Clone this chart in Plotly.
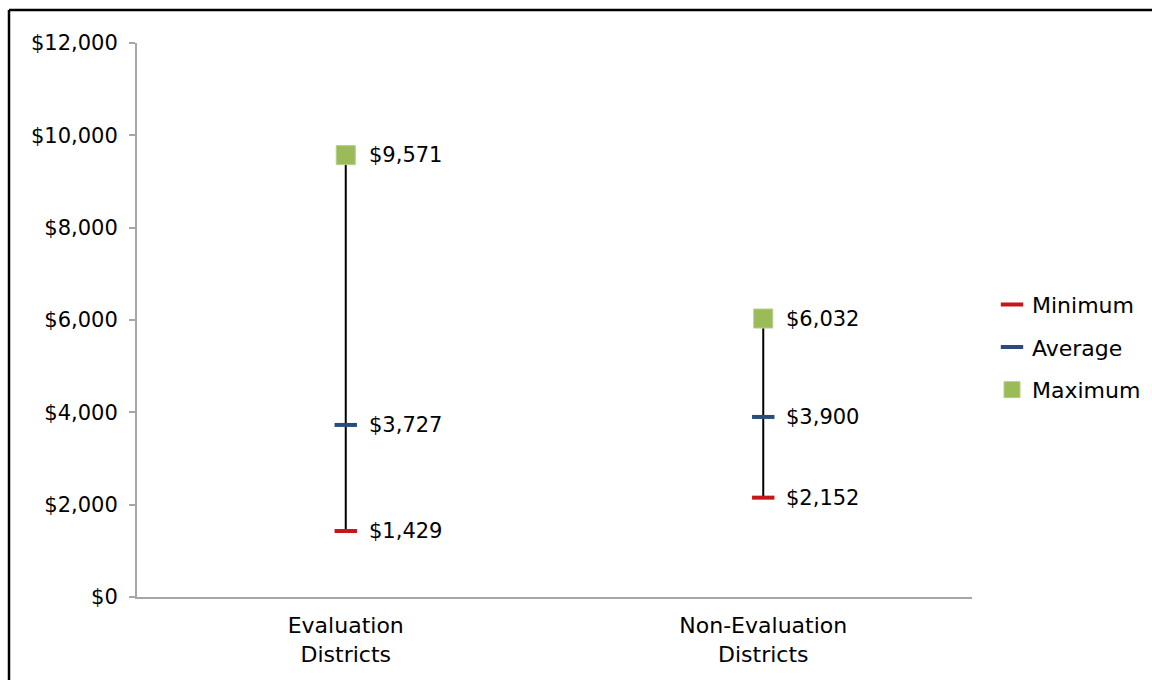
import plotly.graph_objects as go

categories = ["Evaluation<br>Districts", "Non-Evaluation<br>Districts"]
minimum = [1429, 2152]
average = [3727, 3900]
maximum = [9571, 6032]
y_ticks = [0, 2000, 4000, 6000, 8000, 10000, 12000]

FONT = "DejaVu Sans, Arial, sans-serif"
FS = 21
FS_CAT = 22
RED = "#C8151B"
BLUE = "#2A4C7D"
GREEN = "#9BBB59"

L, R, T, B = 137, 180, 43, 83
PW, PH = 1152 - L - R, 680 - T - B

fig = go.Figure()

# drop lines from minimum to maximum
lx, ly = [], []
for c, lo, hi in zip(categories, minimum, maximum):
    lx += [c, c, None]
    ly += [lo, hi, None]
fig.add_trace(go.Scatter(x=lx, y=ly, mode="lines", line=dict(color="black", width=2),
                         showlegend=False, hoverinfo="skip"))

fig.add_trace(go.Scatter(x=categories, y=minimum, mode="markers", name="Minimum",
                         legendgroup="a",
                         marker=dict(symbol="line-ew", size=16, line=dict(color=RED, width=4))))
fig.add_trace(go.Scatter(x=categories, y=average, mode="markers", name="Average",
                         legendgroup="b",
                         marker=dict(symbol="line-ew", size=16, line=dict(color=BLUE, width=4))))
fig.add_trace(go.Scatter(x=categories, y=maximum, mode="markers", name="Maximum",
                         legendgroup="c",
                         marker=dict(symbol="square", size=19, color=GREEN,
                                     line=dict(color="#B5CF85", width=1))))

for series in (minimum, average, maximum):
    for c, v in zip(categories, series):
        fig.add_annotation(x=c, y=v, text=f"${v:,}", showarrow=False,
                           xanchor="left", yanchor="middle", xshift=21,
                           font=dict(family=FONT, size=FS, color="black"))

# outer border (left and top edges only; it runs past the picture's right and bottom)
bx = (9 - L) / PW
by = (680 - B - 10) / PH
bx_end = (1152 - L) / PW
by_end = (680 - B - 680) / PH
fig.add_shape(type="line", xref="paper", yref="paper", x0=bx, x1=bx, y0=by_end, y1=by,
              line=dict(color="black", width=2.5))
fig.add_shape(type="line", xref="paper", yref="paper", x0=bx, x1=bx_end, y0=by, y1=by,
              line=dict(color="black", width=2.5))

fig.update_layout(
    width=1152, height=680,
    margin=dict(l=L, r=R, t=T, b=B, autoexpand=False),
    plot_bgcolor="white", paper_bgcolor="white",
    font=dict(family=FONT, size=FS, color="black"),
    xaxis=dict(type="category", range=[-0.5, 1.5], showgrid=False, showline=True,
               linecolor="#A6A6A6", linewidth=2, ticks="", zeroline=False,
               ticklabelstandoff=8,
               tickfont=dict(family=FONT, size=FS_CAT, color="black")),
    yaxis=dict(range=[0, 12000], tickvals=y_ticks,
               ticktext=[f"${v:,}" for v in y_ticks],
               showgrid=False, showline=True, linecolor="#A6A6A6", linewidth=2,
               ticks="outside", ticklen=6, tickcolor="#A6A6A6", tickwidth=2,
               zeroline=False, ticklabelstandoff=7,
               tickfont=dict(family=FONT, size=FS, color="black")),
    legend=dict(x=(1013 - L - 21) / PW, xanchor="left", y=0.451, yanchor="middle",
                font=dict(family=FONT, size=FS_CAT, color="black"),
                tracegroupgap=11, bgcolor="rgba(0,0,0,0)"),
    showlegend=True,
)

fig.write_html("out.html", config={"displayModeBar": False},
               post_script="document.body.style.margin='0';document.body.style.overflow='hidden';")
